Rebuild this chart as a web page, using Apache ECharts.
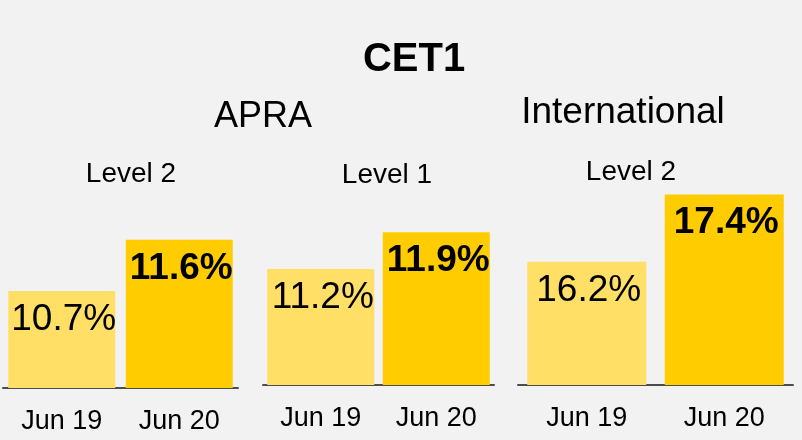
<!DOCTYPE html>
<html>
<head>
<meta charset="utf-8">
<script src="https://cdn.jsdelivr.net/npm/echarts@6/dist/echarts.min.js"></script>
<style>
html,body{margin:0;padding:0;background:#f2f2f2;}
#c{width:802px;height:440px;}
</style>
</head>
<body>
<div id="c"></div>
<script>
// ---- data ----
var categories = ['Jun 19', 'Jun 20'];
var apraLevel2 = [10.7, 11.6];
var apraLevel1 = [11.2, 11.9];
var intlLevel2 = [16.2, 17.4];
var mainTitle = 'CET1';
var groupHeads = ['APRA', 'International'];
var levelLabels = ['Level 2', 'Level 1', 'Level 2'];

// ---- styling / layout ----
var FONT = '"Liberation Sans", Arial, Helvetica, sans-serif';
var LIGHT = '#FFDF66';
var DARK = '#FFCC00';
var barColors = [LIGHT, DARK];
var labelWeights = ['normal', 'bold'];

var grids = [
  {left: 3, width: 235, bottom: 52, height: 199.5},
  {left: 263, width: 231, bottom: 55, height: 184.5},
  {left: 518, width: 275, bottom: 55, height: 224}
];
var yRanges = [[9, 12.5], [9, 12.5], [14, 18]];
var barWidths = [107, 107, 119];
var seriesData = [apraLevel2, apraLevel1, intlLevel2];

function buildItems(vals) {
  return vals.map(function (v, i) {
    return {
      value: v,
      itemStyle: {color: barColors[i]},
      label: {fontWeight: labelWeights[i]}
    };
  });
}

var option = {
  backgroundColor: '#f2f2f2',
  animation: false,
  grid: grids.map(function (g) { return Object.assign({containLabel: false}, g); }),
  xAxis: grids.map(function (g, k) {
    return {
      type: 'category',
      gridIndex: k,
      data: categories,
      axisTick: {show: false},
      axisLine: {show: true, onZero: false, lineStyle: {color: '#4d4d4d', width: 2}},
      axisLabel: {color: '#000', fontSize: 27, fontFamily: FONT, margin: 20}
    };
  }),
  yAxis: grids.map(function (g, k) {
    return {
      type: 'value',
      gridIndex: k,
      min: yRanges[k][0],
      max: yRanges[k][1],
      show: false,
      splitLine: {show: false}
    };
  }),
  series: seriesData.map(function (d, k) {
    return {
      type: 'bar',
      xAxisIndex: k,
      yAxisIndex: k,
      barWidth: barWidths[k],
      data: buildItems(d),
      label: {
        show: true,
        position: 'insideTop',
        distance: 10,
        offset: [2, 0],
        color: '#000',
        fontSize: 37,
        fontFamily: FONT,
        formatter: function (p) { return p.value.toFixed(1) + '%'; }
      }
    };
  }),
  graphic: [
    {type: 'text', x: 414, y: 60, style: {text: mainTitle, font: 'bold 40px ' + FONT, fill: '#000', align: 'center', verticalAlign: 'middle', textAlign: 'center', textVerticalAlign: 'middle'}},
    {type: 'text', x: 263, y: 117, style: {text: groupHeads[0], font: '36px ' + FONT, fill: '#000', align: 'center', verticalAlign: 'middle', textAlign: 'center', textVerticalAlign: 'middle'}},
    {type: 'text', x: 623, y: 113, style: {text: groupHeads[1], font: '37px ' + FONT, fill: '#000', align: 'center', verticalAlign: 'middle', textAlign: 'center', textVerticalAlign: 'middle'}},
    {type: 'text', x: 131, y: 174, style: {text: levelLabels[0], font: '28px ' + FONT, fill: '#000', align: 'center', verticalAlign: 'middle', textAlign: 'center', textVerticalAlign: 'middle'}},
    {type: 'text', x: 387, y: 175, style: {text: levelLabels[1], font: '28px ' + FONT, fill: '#000', align: 'center', verticalAlign: 'middle', textAlign: 'center', textVerticalAlign: 'middle'}},
    {type: 'text', x: 631, y: 172, style: {text: levelLabels[2], font: '28px ' + FONT, fill: '#000', align: 'center', verticalAlign: 'middle', textAlign: 'center', textVerticalAlign: 'middle'}}
  ]
};

var chart = echarts.init(document.getElementById('c'), null, {renderer: 'canvas'});
chart.setOption(option);
</script>
</body>
</html>
